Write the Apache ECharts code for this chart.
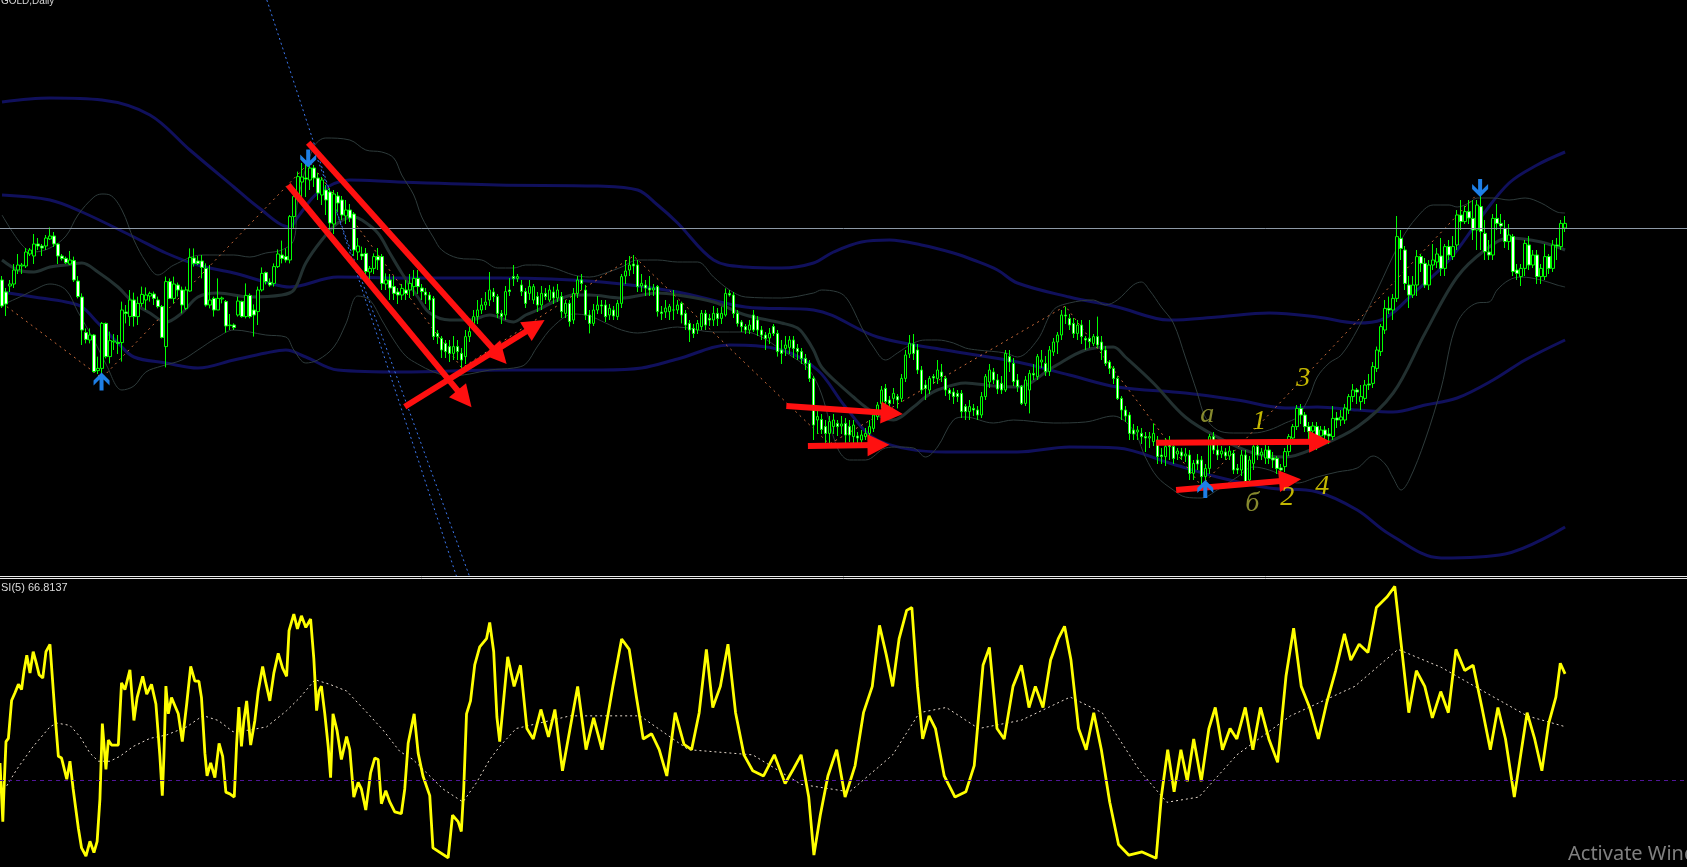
<!DOCTYPE html>
<html><head><meta charset="utf-8">
<script src="https://cdn.jsdelivr.net/npm/echarts@6/dist/echarts.min.js"></script>
<style>html,body{margin:0;padding:0;background:#000;overflow:hidden}#c{width:1687px;height:867px}</style>
</head><body><div id="c"></div>
<script>
// ---- DATA (prices) ----
// candles: [open, close, low, high]
const GOLD_OHLC = [
[1260,1247,1246,1262],[1254,1248,1242,1256],[1257,1258,1254,1260],[1258,1265,1256,1268],[1265,1267.5,1263,1273],
[1267,1267.5,1263,1268.5],[1267,1274,1266,1276],[1273,1275,1272,1276],[1272,1278,1268,1283],[1278,1277,1275,1281],
[1277,1276,1272,1278],[1277,1281,1275,1282.5],[1280.5,1282,1280,1286.3],[1282,1278,1276.5,1284],[1278,1272,1268,1278.5],
[1272,1270.7,1269.7,1273],[1270.8,1268.7,1268,1271.7],[1268,1270,1267.5,1274.5],[1269.7,1260,1259,1271.7],[1259.5,1251.7,1250.8,1262],
[1251.5,1235,1227.5,1253.3],[1233.7,1230.3,1228.3,1235.8],[1230,1232.5,1228.3,1235.8],[1232.5,1214.2,1213.7,1233],[1214.7,1215.8,1213,1221.7],
[1215.8,1238.3,1210.8,1239],[1238.3,1221.7,1220.8,1238.7],[1221.7,1229.7,1218.3,1234.2],[1229,1229.5,1225,1233],[1228.8,1228.3,1223,1232.5],
[1228.7,1245,1219.2,1249.2],[1244,1243.3,1238.3,1247.5],[1241.7,1250,1237,1255],[1250,1241.7,1236.7,1253.7],[1241.7,1248.3,1237.5,1251.7],
[1248.3,1252.8,1246.7,1256.7],[1250,1252.5,1245,1256.3],[1252,1253.3,1249.2,1254.2],[1253,1250.8,1247.5,1254.2],[1250,1246.7,1245.8,1251.7],
[1246.7,1231.3,1230.8,1247.5],[1226.7,1259.2,1216.3,1261.7],[1259.2,1250.8,1250.5,1260.8],[1250.8,1258,1248.3,1261.7],[1257.5,1255,1251.7,1258.7],
[1255,1247.5,1243.3,1256.7],[1245.8,1255,1245,1256.7],[1254.5,1271.3,1254.2,1275.8],[1271,1268.3,1266.7,1275.8],[1269.5,1268.3,1267.5,1272],
[1269.5,1266.3,1260.8,1272.5],[1265.8,1247.5,1246.7,1268.3],[1247.5,1250,1245.8,1267.5],[1250.8,1245,1241.7,1251.7],[1245,1250.8,1245,1260.8],
[1250.5,1251,1248.3,1251.7],[1249.2,1237,1233.7,1250],[1237.5,1237.2,1235,1243],[1237.5,1236.2,1235,1238.3],[1242.5,1249.5,1241.7,1251.7],
[1249.2,1241.7,1241.2,1249.7],[1241.7,1252.3,1240.8,1258.3],[1252.3,1241.7,1240.8,1253.3],[1245,1242.5,1231.7,1247.8],[1244.2,1255,1237.5,1256.7],
[1255,1263.3,1254.2,1266.3],[1263.7,1259.2,1257.8,1264.2],[1258.8,1257.5,1256.7,1260.8],[1258.3,1266.7,1256.7,1268.3],[1266.7,1273,1266,1275.3],
[1272.5,1270.8,1268.3,1279.7],[1271.7,1270,1268.7,1275.8],[1270,1291.7,1268.3,1292.5],[1291.7,1301.7,1285.8,1303.3],[1300.8,1311.7,1300,1314.2],
[1309,1311.5,1300,1318.5],[1311,1310.5,1301.5,1318.5],[1310,1316,1305,1319],[1316,1311,1306.5,1317.5],[1311,1303.5,1300,1313.5],
[1302.5,1310,1297.5,1311.5],[1305,1300,1292.5,1307.5],[1304,1288.5,1285,1306],[1288,1303,1283,1305],[1302,1298.5,1294,1304],
[1300,1292.5,1290,1302],[1292,1295,1288,1300],[1295,1291,1289,1298],[1293,1275,1272,1294],[1274,1277,1270,1281],
[1273,1272,1270,1276.7],[1273.3,1264.2,1262,1276],[1264,1265.8,1260,1267],[1265.8,1271.7,1263,1273.3],[1271.7,1270,1265,1276],
[1271.7,1258.3,1255,1273],[1258,1260,1255,1263.3],[1260,1256,1250,1263],[1256.7,1253.3,1250,1262],[1254,1252.5,1248,1256],
[1252.5,1255.8,1250,1258],[1255,1253.3,1250,1260],[1255,1258.3,1251,1263],[1256.7,1260.8,1252,1265],[1260.8,1256.7,1253,1265],
[1256,1254.2,1250,1258],[1254,1252.5,1248,1256],[1252.5,1250,1245,1254],[1250.8,1231.7,1230,1252],[1233.3,1231.7,1228,1235],
[1230.8,1225,1221,1232],[1228.3,1224.2,1221,1230],[1226.7,1223.3,1219,1230],[1223.3,1226.7,1220,1232],[1226.7,1224.2,1220,1230],
[1223.3,1220,1216,1226],[1221.7,1231.7,1218,1235],[1231.7,1234.2,1229,1238],[1238.3,1241.7,1235,1245],[1241.7,1245,1238,1250],
[1245,1247.5,1243,1251],[1247.5,1249,1245,1254],[1250,1255,1247,1264],[1254,1251.7,1249,1256],[1251.7,1243.3,1241,1253],
[1243.3,1241.7,1238,1245],[1242.5,1254.2,1240,1257],[1255,1254.2,1252,1261],[1261.7,1260.8,1257,1267.5],[1260.8,1261.7,1259,1263],
[1257.5,1254.2,1252,1260],[1254.2,1248.3,1246,1256],[1253.3,1256.7,1250,1260],[1250,1256.7,1248,1258],[1251.7,1247.5,1244,1254],
[1247.5,1253.3,1245,1257],[1253.3,1251.7,1250,1256],[1250,1255,1249,1257.5],[1254,1251,1248,1256.7],[1251,1255,1249,1258],
[1251.7,1244.2,1241,1254],[1243.3,1248.3,1241,1250],[1248.3,1239.2,1236.7,1250],[1240,1253.3,1238,1256],[1253.3,1260,1251,1262],
[1260,1258.3,1255,1263],[1255,1242.5,1240,1257.5],[1242.5,1238.3,1233.3,1245],[1238.3,1245,1237,1248],[1245,1247.5,1243,1252],
[1247.5,1247,1243,1250],[1247.5,1241.7,1239,1250],[1242.5,1245.8,1240,1248],[1245,1242,1240,1247],[1241.7,1248.3,1240,1250],
[1248.3,1261.7,1246,1263],[1262,1264.5,1258,1270],[1265,1267.5,1262,1272],[1268,1267,1263,1272.5],[1267.5,1256.7,1254,1270],
[1257,1258.3,1254,1263],[1257.5,1256,1252,1260],[1256,1255,1252,1262],[1255,1256,1252,1258],[1256.7,1244.2,1241.7,1257.5],
[1244,1243.3,1240,1247],[1244,1246,1241,1250],[1244.2,1246.7,1240,1248],[1245,1245,1240,1255],[1245,1247.5,1243,1250],
[1248.3,1242.5,1238.3,1249.2],[1243.3,1237.5,1235,1245],[1238.3,1235,1229,1240],[1235.8,1233.3,1231,1238],[1235,1238.3,1233,1240],
[1236.7,1243.3,1235,1245],[1243.3,1237.5,1235,1245],[1240.8,1240,1237,1243],[1240,1243.3,1237,1247],[1243.3,1240.8,1237,1246],
[1240.8,1243.3,1238,1246.7],[1242.5,1253.3,1241.7,1255.8],[1253.3,1252.5,1251.7,1255],[1252.5,1243.3,1241,1254],[1243.3,1238.3,1236.7,1245],
[1239,1236.7,1234,1240],[1236.7,1235,1233,1238],[1235,1237.5,1233,1240],[1242.5,1235,1234,1245],[1240,1235,1232,1242],
[1235,1232.5,1230,1237],[1232.5,1230.8,1225,1234],[1231,1233.3,1228,1236],[1236.7,1233.3,1232,1238],[1233.3,1224.2,1221.7,1235],
[1225,1223.3,1218,1230],[1225.8,1227.5,1222,1232],[1226.3,1230,1223,1232],[1230,1225.8,1221,1232],[1225.8,1224.2,1220,1228],
[1224.2,1220.8,1218,1226],[1220.8,1218.3,1215,1223],[1218.3,1210.8,1209,1220],[1210.8,1187.5,1180,1212],[1190,1191.7,1183,1196],
[1190.3,1185.3,1183,1193],[1186.7,1183.3,1178,1190],[1183.3,1189.2,1178,1192],[1186.7,1190,1183,1193],[1188.3,1186.7,1182,1190],
[1187,1188,1183,1192],[1188.3,1182.5,1178,1191],[1186.7,1182.5,1179,1190],[1181.7,1187.5,1178,1190],[1182,1181,1178,1184],
[1180,1182.5,1177,1185],[1181.7,1183.3,1180,1186],[1183.3,1186.7,1180,1190],[1185.8,1192.5,1184,1195],[1191.7,1197.5,1190,1199],
[1198.3,1205,1196,1207],[1205.8,1199.2,1197,1208],[1200,1198.3,1196,1202],[1200.8,1203.3,1198,1206],[1201.7,1200,1195.8,1203],
[1200.8,1210.8,1199,1213],[1210.8,1222.5,1209,1225],[1223,1228.3,1221,1232.5],[1228,1223.3,1220,1233],[1225,1215,1213,1228],
[1215,1205,1203,1217],[1207.5,1205.8,1200,1210],[1205,1210.8,1203,1212],[1211.7,1211,1208,1213],[1210.8,1215,1208,1220],
[1214,1211.7,1209,1218],[1210.8,1205,1202,1212],[1205,1203.3,1200,1206],[1204,1201.7,1198,1206],[1203.3,1201.7,1199,1205],
[1203.3,1194.2,1191,1205],[1196.7,1194.2,1190,1198],[1194.2,1196.7,1190,1200],[1195.8,1195,1192,1198],[1195,1192.5,1190,1197],
[1192.5,1201.7,1191,1204],[1201.7,1211.7,1200,1213],[1209,1215,1206,1218],[1214,1210,1208,1216],[1210,1205.5,1203,1213],
[1208.3,1205,1203,1212],[1205,1223.3,1204,1225],[1221.7,1219,1214,1225],[1218.3,1209.2,1207,1221],[1210,1206.7,1204,1213],
[1206.7,1198.3,1197.5,1207.5],[1198.3,1210,1197,1212],[1205,1213.3,1193.3,1215],[1213.3,1212.5,1210,1218],[1211.7,1221.7,1210,1223],
[1219,1220,1216,1225],[1218.3,1214.2,1212,1222],[1214.2,1225,1212,1227],[1224,1229,1222,1231],[1229,1232.5,1223,1234],
[1232.5,1242.5,1230,1245],[1242.5,1242,1238,1246.7],[1240.8,1237.5,1235,1243],[1238.3,1233.3,1231,1241],[1233.3,1237.5,1230,1240],
[1237.5,1231.7,1228,1240],[1230.8,1230,1225,1232],[1230.8,1229.2,1226,1240],[1228.3,1231.7,1227,1233],[1231.7,1227.5,1226,1241.7],
[1229,1225,1220,1232],[1225,1218.3,1217,1227],[1219,1215.8,1213,1220],[1215.8,1210.8,1208,1217],[1210.8,1200.8,1200,1212],
[1200.8,1195,1190,1202],[1195,1192,1189,1197],[1192.5,1183.3,1180,1194],[1185,1183,1180,1188],[1184,1185,1180,1187],
[1183.3,1181.7,1178,1186],[1181.7,1181,1174,1184],[1181,1181.7,1176,1184],[1179.2,1183.3,1177,1188.3],[1180,1171.7,1168,1182],
[1172.5,1171.7,1168,1176],[1171.7,1176.7,1167,1181],[1178.3,1176.7,1170,1182],[1176.7,1170.8,1168,1179],[1173,1174.5,1170,1176],
[1174,1172,1170,1176],[1172,1173,1169,1176],[1172.5,1163.3,1160,1175],[1163.3,1168.3,1160,1170],[1170,1168,1165,1173],
[1170,1161.7,1157,1172],[1161.7,1165.8,1158,1168],[1165.8,1181.7,1163,1183],[1181.7,1175,1173,1184],[1175,1172.5,1170,1178],
[1173,1174.5,1171,1177],[1174,1172,1170,1176],[1172,1174.5,1170,1177],[1173.3,1165,1163,1175],[1165.8,1165,1163,1168],
[1165,1172.5,1162,1175],[1172.5,1159.2,1158,1175],[1160,1170,1158,1172],[1168.3,1176.7,1165,1179],[1176.7,1172.5,1170,1178],
[1172.5,1174,1170,1176],[1171,1175,1168,1178],[1175,1170.8,1168,1177],[1171,1170,1166,1174],[1170.8,1165.8,1163,1172],
[1166,1165,1162,1168],[1166.7,1174.2,1164,1176],[1174.2,1181.7,1172,1183],[1181,1186.7,1178,1188],[1186.7,1195.8,1185,1197.5],
[1195.8,1192.5,1188,1198],[1192.5,1186.7,1184,1194],[1186.7,1184.2,1180,1189],[1184.5,1187,1180,1189],[1186.7,1181.7,1175,1189],
[1182,1185,1178,1187],[1185,1182.5,1180,1187],[1183,1182,1178,1186],[1181.7,1190.8,1180,1197],[1191,1190,1186,1194],
[1190,1191.5,1187,1195],[1190,1196,1188,1198],[1195,1201.7,1193,1203],[1201.7,1205,1199,1208],[1205,1204,1198,1206],
[1199.2,1201.7,1195,1207.5],[1200.8,1207.5,1198,1210],[1208,1207.5,1205,1213],[1208.3,1216.7,1206,1219],[1215.8,1225,1214,1226.7],
[1224.2,1236.7,1222,1238],[1235,1245.8,1233,1250],[1245.8,1245,1243,1251.7],[1245,1250.8,1240,1253],[1250.8,1281.7,1249,1292],
[1280.8,1275.8,1270,1285],[1275,1258.3,1255,1277],[1257.5,1252.5,1246,1262],[1252.5,1257.5,1251,1262],[1257.5,1271.7,1252,1275],
[1271.7,1268.3,1264,1273],[1268.3,1257.5,1256,1271],[1257.5,1267.5,1255,1270],[1267.5,1270,1265,1278],[1269,1273,1266,1276],
[1272,1265.8,1262,1281],[1265.8,1276.7,1262,1278],[1276.7,1272.5,1270,1280],[1271.7,1276.7,1270,1282],[1277.5,1292.5,1275,1295],
[1292.5,1289.2,1285,1300],[1289.2,1294.2,1288,1297],[1294.2,1291,1288,1300],[1290.8,1285,1280,1300],[1285,1297.5,1275,1300],
[1296.7,1284.2,1275,1305],[1283.3,1274.2,1270,1290],[1274,1272.5,1270,1280],[1272.5,1290.8,1270,1293],[1290.8,1288.3,1285,1298],
[1288.3,1287,1283,1293],[1285.8,1279.2,1276,1290],[1279.2,1282.5,1275,1288],[1281.7,1264.2,1262,1283],[1265,1263.3,1260,1268],
[1261.7,1265.8,1257,1268],[1265.8,1278.3,1262,1280],[1277.5,1267.5,1265,1282],[1267.5,1272.5,1266,1275],[1272.5,1261.7,1258,1275],
[1261.7,1265.8,1258,1268],[1261.7,1271.7,1260,1278],[1271.7,1265.8,1263,1273],[1265.8,1277.5,1264,1280],[1277.5,1277,1270,1281],
[1276.7,1288.3,1275,1290],[1286,1288.3,1284,1292]
];
// Bollinger-type bands [barIndex, price]
const NAVY_UP = [[0,1349],[12,1351],[25,1350],[37,1342.5],[47,1325],[58,1306.5],[64,1296.5],[72,1286.5],[74,1291.5],[79,1303.5],[87,1310],[99,1309],[124,1307.5],[149,1307],[159,1305],[164,1297.5],[169,1288.5],[178,1270],[186,1266.5],[195,1266],[203,1268.5],[208,1274],[215,1279],[222,1280],[230,1277.5],[238,1273.5],[243,1270],[249,1265],[254,1258.5],[267,1251.5],[279,1246.5],[292,1240],[304,1241.5],[317,1243.5],[329,1241.5],[339,1238.5],[345,1240],[354,1255],[362,1270],[370,1291.5],[377,1308.5],[384,1317.5],[391,1324]];
const NAVY_MID = [[0,1302.5],[12,1300],[20,1294],[33,1281.5],[41,1273.5],[49,1267.5],[58,1263.5],[66,1259],[72,1256.5],[84,1261.5],[100,1261],[125,1261],[150,1259],[169,1254],[186,1246.5],[203,1245],[219,1231.5],[236,1225],[254,1219],[267,1212.5],[279,1206.5],[296,1203.5],[309,1200],[321,1196],[329,1196.5],[339,1195],[348,1194],[356,1197.5],[364,1201],[373,1210],[381,1220],[391,1230]];
const NAVY_LOW = [[0,1254],[8,1251.5],[16,1249],[20,1246.5],[24,1238.5],[29,1228.5],[33,1221.5],[41,1218.5],[49,1216],[58,1220],[66,1223.5],[71,1225],[76,1221.5],[84,1215],[100,1214],[125,1215],[150,1215],[160,1216],[169,1220.5],[182,1227.5],[195,1225],[204,1215],[211,1196.5],[219,1180],[236,1174],[254,1174],[267,1176.5],[279,1176],[292,1168.5],[304,1161.5],[317,1156],[329,1154],[339,1145],[347,1133],[360,1121],[376,1123],[391,1136.5]];
const GRAY_MID = [[0,1270],[4,1265],[8,1264],[12,1266.5],[16,1267.5],[20,1268.5],[24,1264],[29,1256.5],[33,1248.5],[37,1243.5],[41,1239],[45,1243.5],[49,1251.5],[54,1253.5],[62,1251.5],[70,1252.5],[73,1255],[76,1268.5],[80,1280],[84,1288.5],[88,1291.5],[90,1290],[94,1283.5],[97,1273.5],[100,1263.5],[104,1251.5],[107,1243.5],[112,1240],[117,1240],[122,1242.5],[128,1239],[131,1242.5],[134,1245],[139,1250],[143,1252.5],[147,1252.5],[155,1251],[164,1253.5],[169,1252.5],[178,1249],[186,1242.5],[195,1238.5],[199,1236],[201,1231.5],[203,1225],[205,1216.5],[209,1208.5],[213,1201.5],[216,1196.5],[220,1191.5],[223,1190],[228,1196.5],[231,1201.5],[234,1205],[241,1208.5],[248,1207],[254,1206.5],[263,1216.5],[271,1225],[278,1226.5],[281,1221.5],[288,1208.5],[296,1191.5],[304,1181.5],[313,1173.5],[321,1171.5],[329,1176.5],[339,1186.5],[348,1203.5],[356,1233.5],[364,1261.5],[371,1275],[377,1281],[385,1279],[391,1275]];
const GRAY_UP = [[0,1292.5],[5,1277.5],[8,1274],[12,1276],[16,1282],[19,1292.5],[23,1301.5],[25,1303],[27,1302.5],[30,1295],[33,1280],[36,1269],[39,1262.5],[43,1267.5],[50,1272.5],[58,1272.5],[62,1271.5],[66,1273.5],[70,1275],[73,1280],[74,1300],[78,1326.5],[81,1331],[87,1330],[91,1325],[95,1324],[98,1321],[100,1312.5],[103,1302.5],[105,1291.5],[108,1281],[110,1275],[114,1271],[120,1270],[124,1266],[128,1266],[131,1267.5],[134,1267.5],[138,1266],[143,1262.5],[147,1261.5],[151,1263.5],[155,1266.5],[159,1270],[164,1270],[169,1269],[174,1269],[178,1261.5],[182,1255],[186,1251.5],[195,1251],[203,1253.5],[205,1255],[209,1254],[211,1251.5],[213,1245],[215,1236.5],[218,1226.5],[221,1220],[224,1223.5],[228,1228.5],[231,1230],[234,1230],[238,1228.5],[241,1226],[244,1225],[251,1223.5],[254,1221.5],[259,1230],[263,1245],[267,1248.5],[273,1250],[276,1247.5],[279,1250],[283,1257.5],[285,1259],[287,1255],[290,1246.5],[293,1238.5],[296,1221.5],[299,1203.5],[301,1191.5],[304,1185],[308,1183.5],[313,1183.5],[317,1185],[321,1188.5],[324,1191.5],[327,1201.5],[329,1211.5],[332,1218.5],[335,1222.5],[339,1235],[344,1255],[350,1280],[354,1291.5],[358,1297.5],[362,1297.5],[364,1296.5],[367,1298.5],[369,1301],[373,1301],[377,1300],[381,1301],[385,1298.5],[389,1294],[391,1293.5]];
const GRAY_LOW = [[0,1247.5],[5,1252],[8,1255],[12,1258],[16,1255],[19,1244],[23,1230],[26,1218],[30,1205],[33,1207],[36,1214],[40,1217],[45,1220],[49,1225],[54,1231.5],[58,1235],[66,1232.5],[71,1231.5],[73,1225],[76,1218.5],[79,1220],[83,1226.5],[86,1238],[89,1252],[92,1250],[95,1240],[98,1230],[101,1222],[104,1218],[108,1214],[112,1212],[117,1213],[122,1215],[128,1216],[131,1218],[134,1227],[138,1237],[143,1243],[147,1242],[151,1238.5],[155,1235],[159,1233.5],[164,1235],[169,1236.5],[178,1234],[186,1234],[190,1231.5],[195,1225],[199,1220],[202,1215],[205,1203],[209,1176],[212,1170],[216,1170],[221,1176],[224,1176.5],[228,1176],[231,1171.5],[234,1176.5],[238,1190],[241,1191.5],[248,1188.5],[253,1190],[263,1188.5],[271,1189],[278,1192],[283,1185],[286,1171.5],[289,1161.5],[293,1155],[296,1151.5],[300,1151],[304,1155],[309,1161.5],[313,1166.5],[317,1165],[321,1161.5],[324,1158.5],[329,1161.5],[334,1164],[339,1166],[343,1172],[346,1168],[348,1161],[350,1155],[352,1160],[356,1180],[360,1206],[364,1238.5],[369,1248.5],[372,1249],[374,1255],[377,1260],[380,1261.5],[385,1260],[389,1257.5],[391,1256.5]];
// zigzag swing points [barIndex, price]
const ZIGZAG = [[0,1248.5],[25,1211],[77,1319],[115,1216],[158,1272],[207,1178],[266,1247],[300,1157],[370,1305]];
const HLINE_PRICE = 1286;
// blue dotted trend lines [[i1,p1],[i2,p2]]
const BLUE_LINES = [[[66.25,1400],[113.75,1111.5]],[[79,1320],[117,1111.5]]];
// red hand-drawn arrows [[i1,p1],[i2,p2]]
const RED_ARROWS = [
 [[76.6,1328.65],[124.4,1222.1]],
 [[71.6,1307.5],[115.7,1200.6]],
 [[100.75,1196.65],[133.4,1237.1]],
 [[196.2,1197],[222.6,1193.4]],
 [[201.6,1177],[219.25,1177.5]],
 [[288.7,1178.65],[329.7,1179.15]],
 [[293.7,1155],[322.2,1159.9]]
];
// fractal arrows [barIndex, price, direction]
const SIGNAL_ARROWS = [[24.9,1209.25,'up'],[76.6,1320.75,'down'],[301,1155.5,'up'],[369.75,1306,'down']];
// wave labels [barIndex, price, text, kind]
const WAVE_LABELS = [[301.5,1192.5,'a','b'],[314.5,1189,'1','n'],[325.5,1210.5,'3','n'],[312.75,1148,'б','b'],[321.5,1151,'2','n'],[330.25,1156.5,'4','n']];
// RSI(5) [barIndex, value]
const RSI5 = [[-0.5,36],[0.2,15.7],[0.5,27],[1,43.4],[1.6,44.5],[2.4,57.6],[3.25,60.3],[4.1,63.2],[4.9,61.4],[5.5,67.8],[6.2,73.3],[7,67.1],[7.8,74.5],[8.7,69.9],[9.3,66.5],[10.2,65.4],[11,74.5],[12,77],[13.25,53],[14.1,38.3],[14.9,37.7],[16.2,30.4],[17,36.6],[17.8,27],[19.1,13.4],[19.9,6.6],[21,3.8],[22,8.9],[23,5],[23.8,8.9],[24.5,23.6],[25.1,49.6],[26,33.8],[26.6,43.9],[27.4,42.2],[29.1,42.2],[29.9,63.7],[30.75,61.4],[32,68.2],[33,50.7],[33.8,58.6],[35.2,66],[36.2,59.8],[37.4,63.2],[38.5,56.4],[39.5,38.3],[40.1,24.7],[40.5,38.3],[41,62.6],[41.6,53],[42.4,58.6],[43.25,55.8],[44.1,53],[45.1,43.4],[46.2,56.4],[47.2,69.4],[48.25,64.3],[49.25,64.3],[49.9,58.6],[50.75,39.4],[51.3,31.5],[52.2,36],[53.25,30.9],[54.3,42.8],[55.2,38.3],[56,25.9],[57,25.3],[58.1,24.2],[58.7,42.8],[59.25,55.3],[59.9,41.7],[60.5,50.7],[61.2,57.5],[62.2,42.2],[63.25,50.7],[64.1,60.9],[65.2,69.4],[66,63.7],[67,57.5],[68,67.1],[69.1,73.9],[70.2,68.8],[71.2,66],[71.8,81.8],[73,87.5],[73.9,82.4],[74.9,86.9],[76,82.9],[77.2,85.8],[78,72.2],[78.7,54.1],[79.3,60.9],[79.9,62.6],[80.75,53],[81.6,41.7],[82.2,30.9],[82.8,53],[83.8,47.3],[84.9,37.2],[86.2,45.1],[87,40.6],[88,24.2],[89.1,29.3],[89.9,27],[91,19.7],[92.2,32.6],[93.25,37.7],[94.1,37.2],[94.9,21.9],[96,26.4],[97,22.5],[98.25,19.1],[99.9,18.5],[100.75,27],[101.6,42.8],[103.1,53],[104.1,39.4],[105.3,31.5],[107,24.7],[107.8,6.6],[111.6,3.2],[112.7,17.9],[114.1,15.7],[114.9,12.3],[115.5,27],[116.2,53],[117.2,57.5],[118.25,69.9],[119.5,76.2],[121.2,79],[122,84.6],[123,74.5],[123.8,51.9],[124.5,43.4],[126.5,72.7],[128.1,62.5],[129.7,69.8],[131.3,47.9],[132.9,44.3],[134.8,54.5],[136.7,45],[138.3,54.5],[140.2,33.3],[142.1,47.9],[144,62.5],[146.1,40.6],[148,51.6],[150.1,40.6],[152.8,62.5],[155,78.9],[156.9,75.3],[158.7,58.8],[160.4,44.3],[162.5,46.1],[164.4,40.6],[166.3,31.5],[168.4,53.4],[170.6,42.4],[172.5,40.6],[174.4,53.4],[176.2,75.3],[177.8,55.2],[179.7,62.5],[181.6,77.1],[183.5,53.4],[185.6,38.8],[187.8,33.3],[190.5,31.5],[193.2,38.8],[195.9,28.9],[198,34],[199.9,38.8],[201.8,24.2],[203.1,4.1],[204.7,18],[206.6,31.5],[208.8,40.6],[210.9,24.2],[213.4,35.1],[215.5,53.4],[217.7,62.5],[219.5,83.6],[221.2,73.4],[222.8,62.5],[224.4,78.9],[226.3,88.8],[227.6,89.8],[229,62.5],[230.3,44.3],[231.9,52.3],[233.5,47.9],[235.7,31.5],[238.4,24.2],[241.1,26],[243.2,35.1],[245.4,69.8],[247,76],[248.9,47.9],[250.7,44.3],[252.9,62.5],[255,69.8],[256.9,55.2],[258.5,62.5],[260.4,55.2],[262.3,71.6],[264.2,78.9],[265.8,83.3],[267.4,71.6],[269.3,47.9],[271.2,40.6],[273.1,53.4],[275,40.6],[277.1,22.4],[279.3,7.8],[281.9,4.1],[285.2,5.2],[288.7,3],[290,24.2],[291.6,40.6],[293.2,26],[294.9,40.6],[296.5,29.7],[298.1,44.3],[300,29.7],[301.9,47.9],[303.5,55.2],[305.3,40.6],[307.2,47.9],[308.9,44.3],[311,55.2],[312.9,40.6],[314.8,55.2],[316.9,44.3],[319.1,36.2],[321.2,66.1],[323.1,82.6],[325,62.5],[327.1,55.2],[329.3,44.3],[331.4,57],[333.6,67.9],[335.8,80.7],[337.4,71.6],[339.5,77.1],[341.7,74.2],[343.8,89.8],[346.5,93.5],[348.4,97.1],[350,77.1],[351.9,53.4],[353.8,67.9],[355.9,62.5],[357.8,51.6],[359.9,60.7],[361.8,53.4],[363.7,75.3],[365.9,68],[368,69.8],[370.2,55.2],[372.3,40.6],[374.2,55.2],[376.1,44.3],[378.3,24.2],[379.9,38.8],[381.5,53.4],[383.4,44.3],[385.2,33.3],[386.9,49.7],[388.7,58.8],[389.8,70.5],[391,66.81]];
const RSI_MA = [[1.2,28.1],[3.7,33.8],[7.8,41.7],[12,48.5],[13.7,49.8],[17,49],[19.5,45.1],[22,39.4],[24.1,36.6],[27,36.6],[29.5,38.3],[32.8,41.7],[37,44.5],[41.2,45.7],[46.2,48.5],[50.3,52.4],[54.1,50.7],[57.8,46.8],[62,47.4],[66.2,48.5],[71.2,54.1],[74.5,58.6],[78.3,64.8],[82,63.2],[86.2,60.9],[91.2,53.6],[95.3,47.4],[99.5,40],[102.8,37.2],[106.2,32.6],[110.3,27],[115.3,22.5],[118.7,29.2],[122,37.2],[124.5,41.7],[128.6,47.9],[142.1,52.3],[159.6,52.3],[171.7,40.6],[187.8,38.8],[199.9,28.6],[212,26],[222.8,38.8],[229.5,53.4],[236.2,55.2],[244.3,47.9],[255,50.8],[267.2,58.8],[275.2,53.4],[284.6,33.3],[291.4,22.4],[299.4,24.2],[308.9,38.8],[322.3,52.3],[338.4,62.5],[349.2,75.3],[360,69.1],[370.7,60.7],[381.5,52.3],[390.9,48.6]];
const RSI_LEVEL = 30;
const RSI_LAST = '66.8137';
const N_SLOTS = 422;
const SLOTS = Array.from({length: N_SLOTS}, (_, i) => String(i));

// ---- CHART ----
const chart = echarts.init(document.getElementById('c'), null, {renderer: 'canvas'});
const ARROW_DOWN = 'path://M6,0 L10,0 L10,11 L16,5 L16,10 L8,18 L0,10 L0,5 L6,11 Z';
const ARROW_UP = 'path://M6,18 L10,18 L10,7 L16,13 L16,8 L8,0 L0,8 L0,13 L6,7 Z';
function band(data, color, width) {
  return {type: 'line', xAxisIndex: 1, yAxisIndex: 0, data: data, smooth: 0.35, showSymbol: false,
    silent: true, z: 1, lineStyle: {color: color, width: width}};
}
const option = {
  backgroundColor: '#000000',
  animation: false,
  grid: [
    {left: 0, top: 0, width: 1688, height: 577},
    {left: 0, top: 578, width: 1688, height: 295}
  ],
  xAxis: [
    {type: 'category', gridIndex: 0, data: SLOTS, show: false, boundaryGap: true},
    {type: 'value', gridIndex: 0, min: -0.5, max: N_SLOTS - 0.5, show: false},
    {type: 'value', gridIndex: 1, min: -0.5, max: N_SLOTS - 0.5, show: false}
  ],
  yAxis: [
    {type: 'value', gridIndex: 0, min: 1111.5, max: 1400, show: false},
    {type: 'value', gridIndex: 1, min: 0, max: 100, show: false}
  ],
  series: [
    band(NAVY_UP, '#10105c', 3), band(NAVY_MID, '#10105c', 3), band(NAVY_LOW, '#10105c', 3),
    band(GRAY_UP, '#2e3b3b', 1), band(GRAY_LOW, '#2e3b3b', 1), band(GRAY_MID, '#223030', 3),
    {type: 'line', xAxisIndex: 1, yAxisIndex: 0, data: ZIGZAG, showSymbol: false, silent: true, z: 2,
      lineStyle: {color: '#c86a3a', width: 1, type: [2, 4]}},
    {type: 'lines', coordinateSystem: 'cartesian2d', xAxisIndex: 1, yAxisIndex: 0, silent: true, z: 2,
      data: BLUE_LINES.map(c => ({coords: c})), symbol: 'none',
      lineStyle: {color: '#3b76ec', width: 1, type: [2, 3], opacity: 1, curveness: 0}},
    {type: 'candlestick', xAxisIndex: 0, yAxisIndex: 0, data: GOLD_OHLC, barWidth: 3, z: 3, silent: true,
      itemStyle: {color: '#000000', color0: '#ffffff', borderColor: '#00ff00', borderColor0: '#00ff00', borderWidth: 1},
      markLine: {silent: true, symbol: 'none', label: {show: false}, animation: false,
        lineStyle: {color: '#8d99a6', width: 1, type: 'solid'}, data: [{yAxis: HLINE_PRICE}]}},
    {type: 'lines', coordinateSystem: 'cartesian2d', xAxisIndex: 1, yAxisIndex: 0, silent: true, z: 5,
      data: RED_ARROWS.map(c => ({coords: c})), symbol: ['none', 'triangle'], symbolSize: 22,
      lineStyle: {color: '#ff1010', width: 6, opacity: 1, curveness: 0}},
    {type: 'scatter', xAxisIndex: 1, yAxisIndex: 0, silent: true, z: 6,
      data: SIGNAL_ARROWS.map(a => ({value: [a[0], a[1]], symbol: a[2] === 'up' ? ARROW_UP : ARROW_DOWN})),
      symbolSize: [16, 18], itemStyle: {color: '#1e7fe6', opacity: 1}},
    {type: 'scatter', xAxisIndex: 1, yAxisIndex: 0, silent: true, z: 6, symbolSize: 1,
      itemStyle: {color: 'rgba(0,0,0,0)'},
      data: WAVE_LABELS.map(w => ({value: [w[0], w[1]], label: {show: true, position: 'inside', formatter: w[2],
        color: w[3] === 'b' ? '#a9ad3a' : '#f2e400', fontFamily: 'Liberation Serif', fontStyle: 'italic', fontSize: 28}}))},
    {type: 'line', xAxisIndex: 2, yAxisIndex: 1, data: RSI_MA, showSymbol: false, silent: true, z: 2,
      lineStyle: {color: '#e6d9cc', width: 1, type: [2, 3]}},
    {type: 'line', xAxisIndex: 2, yAxisIndex: 1, data: RSI5, showSymbol: false, silent: true, z: 3,
      lineStyle: {color: '#ffff00', width: 2.8},
      markLine: {silent: true, symbol: 'none', label: {show: false}, animation: false,
        lineStyle: {color: '#52169a', width: 1, type: [4, 4]}, data: [{yAxis: RSI_LEVEL}]}}
  ],
  graphic: [
    {type: 'line', shape: {x1: 0, y1: 576.5, x2: 1687, y2: 576.5}, style: {stroke: '#e8e8e8', lineWidth: 1}, z: 100},
    {type: 'line', shape: {x1: 0, y1: 578.5, x2: 1687, y2: 578.5}, style: {stroke: '#e8e8e8', lineWidth: 1}, z: 100},
    {type: 'text', x: 1, y: -4, z: 100, style: {text: 'GOLD,Daily', fill: '#d6d6d6', font: '10px "Liberation Sans"', verticalAlign: 'top'}},
    {type: 'text', x: 1, y: 582, z: 100, style: {text: 'SI(5) ' + RSI_LAST, fill: '#dcdcdc', font: '11px "Liberation Sans"', verticalAlign: 'top'}},
    {type: 'text', x: 1568, y: 864, z: 100, style: {text: 'Activate Windows', fill: '#808080', font: '20px "Noto Sans"', verticalAlign: 'bottom'}}
  ]
};
chart.setOption(option);
</script>
</body></html>
